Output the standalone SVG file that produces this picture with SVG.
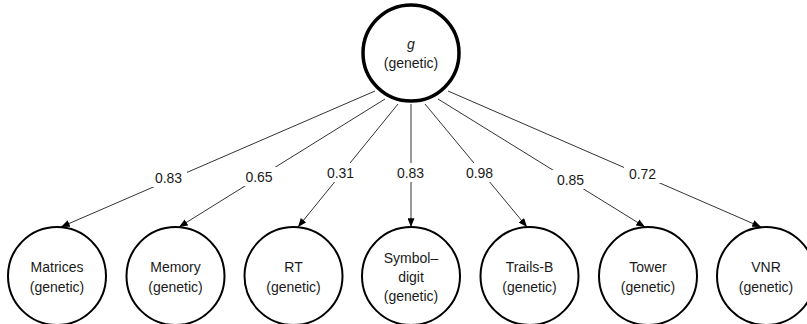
<svg xmlns="http://www.w3.org/2000/svg" width="807" height="324" viewBox="0 0 807 324">
  <defs>
    <marker id="arrow" viewBox="0 0 10 8" refX="10" refY="4" markerWidth="9" markerHeight="7" markerUnits="userSpaceOnUse" orient="auto">
      <path d="M0,0 L10,4 L0,8 Z" fill="#000"/>
    </marker>
  </defs>
  <style>
    text { font-family: "Liberation Sans", Arial, sans-serif; font-size: 14px; fill: #1a1a1a; text-anchor: middle; }
    .node { fill: #fff; stroke: #000; stroke-width: 2; }
    .latent { fill: #fff; stroke: #000; stroke-width: 3.5; }
    .edge { stroke: #333; stroke-width: 1; fill: none; marker-end: url(#arrow); }
    .lblbg { fill: #fff; }
  </style>
  <rect width="807" height="324" fill="#fff"/>

  <g id="connectors">
    <line class="edge" x1="375" y1="91" x2="61" y2="227"/>
    <line class="edge" x1="385" y1="99" x2="179" y2="227"/>
    <line class="edge" x1="398" y1="104" x2="298" y2="227"/>
    <line class="edge" x1="411" y1="104" x2="411" y2="227"/>
    <line class="edge" x1="425" y1="104" x2="527" y2="227"/>
    <line class="edge" x1="438" y1="99" x2="645" y2="227"/>
    <line class="edge" x1="448" y1="91" x2="761" y2="227"/>
    <!-- loading labels sit on white patches that break the lines -->
    <g id="loadings">
      <rect class="lblbg" x="150" y="168" width="37" height="19"/>
      <text x="168.5" y="183">0.83</text>
      <rect class="lblbg" x="241" y="167" width="36" height="19"/>
      <text x="259" y="182">0.65</text>
      <rect class="lblbg" x="324" y="163" width="33" height="19"/>
      <text x="340.5" y="178">0.31</text>
      <rect class="lblbg" x="392" y="163" width="37" height="19"/>
      <text x="410.5" y="178">0.83</text>
      <rect class="lblbg" x="461" y="163" width="37" height="19"/>
      <text x="479.5" y="178">0.98</text>
      <rect class="lblbg" x="552" y="170" width="37" height="19"/>
      <text x="570.5" y="185">0.85</text>
      <rect class="lblbg" x="624" y="164" width="37" height="19"/>
      <text x="642.5" y="179">0.72</text>
    </g>
  </g>

  <g id="g-genetic">
    <circle class="latent" cx="411" cy="53" r="48"/>
    <text x="411" y="49" font-style="italic">g</text>
    <text x="411" y="68">(genetic)</text>
  </g>

  <g id="matrices">
    <circle class="node" cx="57" cy="276" r="49"/>
    <text x="57" y="272">Matrices</text>
    <text x="57" y="292">(genetic)</text>
  </g>

  <g id="memory">
    <circle class="node" cx="175.5" cy="276" r="49"/>
    <text x="175.5" y="272">Memory</text>
    <text x="175.5" y="292">(genetic)</text>
  </g>

  <g id="rt">
    <circle class="node" cx="293.5" cy="276" r="49"/>
    <text x="293.5" y="272">RT</text>
    <text x="293.5" y="292">(genetic)</text>
  </g>

  <g id="symbol-digit">
    <circle class="node" cx="411" cy="276" r="49"/>
    <text x="411" y="263">Symbol–</text>
    <text x="411" y="282">digit</text>
    <text x="411" y="301">(genetic)</text>
  </g>

  <g id="trails-b">
    <circle class="node" cx="529.5" cy="276" r="49"/>
    <text x="529.5" y="272">Trails-B</text>
    <text x="529.5" y="292">(genetic)</text>
  </g>

  <g id="tower">
    <circle class="node" cx="648" cy="276" r="49"/>
    <text x="648" y="272">Tower</text>
    <text x="648" y="292">(genetic)</text>
  </g>

  <g id="vnr">
    <circle class="node" cx="766" cy="276" r="49"/>
    <text x="766" y="272">VNR</text>
    <text x="766" y="292">(genetic)</text>
  </g>
</svg>
